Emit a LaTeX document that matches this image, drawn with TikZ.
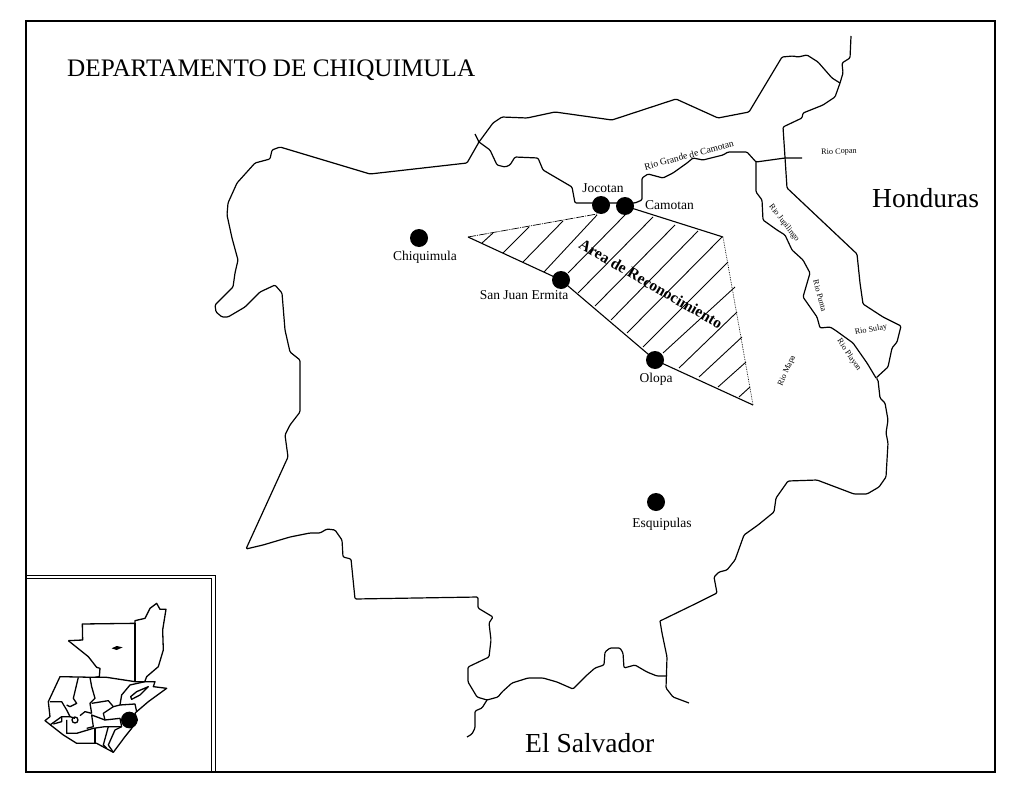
\documentclass[tikz,border=0pt]{standalone}
\usepackage{fontspec}
\setmainfont{Liberation Serif}
\usetikzlibrary{positioning}
\tikzset{
    linea/.style={line width=1.2pt,line join=round,rounded corners=1.2pt},
    marco/.style={line width=2pt},
    trama/.style={line width=0.9pt},
    pueblo/.style={circle,fill=black,inner sep=0pt,minimum size=18pt},
    nombre/.style={inner sep=0pt,font=\fontsize{13.5}{13.5}\selectfont},
    rio/.style={inner sep=0pt,font=\fontsize{8.2}{8.2}\selectfont},
    pais/.style={inner sep=0pt,font=\fontsize{27.5}{27.5}\selectfont},
    mapita/.style={line width=1.3pt,line join=round},
}
\begin{document}
\begin{tikzpicture}[x=1pt,y=-1pt]
    \useasboundingbox (0,0) rectangle (1024,797);
    %% Frame
    \draw[marco] (26,21) rectangle (995,772);
    \draw[line width=1pt] (27,575) -- (215,575) -- (215,772);
    \draw[line width=1pt] (27,578) -- (211,578) -- (211,772);
    %% Title and countries
    \node[inner sep=0pt,anchor=base west,font=\fontsize{25.2}{25.2}\selectfont] (titulo) at (67,77) {DEPARTAMENTO DE CHIQUIMULA};
    \node[pais,anchor=base west] (honduras) at (872,207) {Honduras};
    \node[pais,anchor=base west] (salvador) at (525,752) {El Salvador};
    %% Boundary, west and south
    \draw[linea] (475,134) -- (479,142) -- (467,163) -- (370,174) -- (280,147) -- (272,150) -- (270,159) -- (255,163)
        -- (237,183) -- (228,203) -- (227,215) -- (232,238) -- (238,260) -- (235,273) -- (233,287) -- (215,305)
        -- (216,312) -- (222,317) -- (228,317) -- (245,307) -- (260,292) -- (275,285) -- (282,293) -- (285,330)
        -- (290,352) -- (300,360) -- (300,412) -- (290,425) -- (285,435) -- (288,457) -- (246,549) -- (263,545)
        -- (290,537) -- (310,533) -- (320,533) -- (327,529) -- (335,530) -- (342,540) -- (343,557) -- (351,559)
        -- (355,599) -- (478,597) -- (478,608) -- (493,617) -- (489,623) -- (491,640) -- (489,657) -- (468,667)
        -- (468,682) -- (477,697) -- (487,700) -- (498,697) -- (502,692) -- (512,683) -- (528,678) -- (543,678)
        -- (557,682) -- (573,689) -- (587,675) -- (595,668) -- (604,665) -- (605,652) -- (610,648) -- (620,648)
        -- (623,653) -- (624,668) -- (635,665) -- (647,672) -- (657,676) -- (667,676);
    \draw[linea] (487,700) -- (482,708) -- (475,711) -- (475,728) -- (472,734) -- (467,737);
    %% Boundary, east
    \draw[linea] (660,621) -- (662,633) -- (667,657) -- (666,688) -- (673,697) -- (689,703);
    \draw[linea] (660,621) -- (697,603) -- (717,593) -- (714,577) -- (719,572) -- (727,570) -- (735,560) -- (744,535)
        -- (758,525) -- (774,512) -- (776,498) -- (788,481) -- (817,480) -- (854,494) -- (867,494) -- (879,487)
        -- (886,477) -- (888,443) -- (886,433) -- (888,420) -- (885,403) -- (880,398) -- (878,380) -- (876,378)
        -- (888,367) -- (892,348) -- (897,342) -- (901,326) -- (883,317) -- (863,304) -- (860,283) -- (857,254)
        -- (787,188) -- (783,127) -- (802,118) -- (803,113) -- (823,105) -- (835,97) -- (840,83) -- (843,73)
        -- (842,63) -- (850,58) -- (851,36);
    %% Boundary, north
    \draw[linea] (479,142) -- (493,123) -- (502,117) -- (527,118) -- (555,112) -- (612,120) -- (676,99) -- (718,118)
        -- (749,112) -- (782,57) -- (793,56) -- (798,57) -- (807,55) -- (818,62) -- (832,78) -- (840,83);
    %% Rivers
    \draw[linea] (479,142) -- (490,150) -- (497,165) -- (505,167) -- (510,165) -- (515,157) -- (538,158) -- (543,170)
        -- (572,187) -- (575,203) -- (592,203) -- (635,203) -- (642,200) -- (642,178) -- (648,174) -- (663,178)
        -- (673,173) -- (687,163) -- (693,158) -- (703,160) -- (723,155) -- (728,152) -- (747,152) -- (756,162)
        -- (785,158) -- (802,158);
    \draw[linea] (756,162) -- (756,192) -- (762,200) -- (763,220) -- (777,230) -- (785,235) -- (792,250) -- (803,260)
        -- (810,273) -- (803,297) -- (817,317) -- (820,328) -- (830,327) -- (835,330) -- (853,343) -- (867,363)
        -- (876,378);
    %% Hatched area
    \draw[line width=1.1pt] (468,237) -- (561,280) -- (655,360) -- (753,405);
    \draw[line width=1.1pt] (625,206) -- (723,237);
    \draw[line width=0.7pt,densely dotted] (723,237) -- (753,405);
    \draw[line width=0.7pt,dash pattern=on 8pt off 1pt on 1pt off 1pt] (468,237) -- (597,214);
    \foreach \xa/\ya/\xb/\yb in {482/243/493/233,503/253/529/227,523/262/563/221,544/272/597/215,568/273/625/215,
        578/293/653/217,595/306/675/225,611/320/698/231,627/333/722/237,643/347/728/262,663/353/735/287,
        679/368/737/312,699/377/742/337,718/387/746/362,739/397/750/387}
        \draw[trama] (\xa,\ya) -- (\xb,\yb);
    \node[inner sep=0pt,rotate=-30,font=\bfseries\fontsize{15.6}{15.6}\selectfont] (area) at (651,284) {Area de Reconocimiento};
    %% Towns
    \node[pueblo] (chiquimula) at (419,238) {};
    \node[pueblo] (jocotan) at (601,205) {};
    \node[pueblo] (camotan) at (625,206) {};
    \node[pueblo] (sanjuan) at (561,280) {};
    \node[pueblo] (olopa) at (655,360) {};
    \node[pueblo] (esquipulas) at (656,502) {};
    \node[nombre] at (425,257) {Chiquimula};
    \node[nombre] at (603,188) {Jocotan};
    \node[nombre,anchor=west] at (645,205) {Camotan};
    \node[nombre] at (524,295) {San Juan Ermita};
    \node[nombre] at (656,379) {Olopa};
    \node[nombre] at (662,524) {Esquipulas};
    %% River names
    \node[rio,font=\fontsize{9.5}{9.5}\selectfont,rotate=15] at (689,155) {Rio Grande de Camotan};
    \node[rio,rotate=3] at (839,152) {Rio Copan};
    \node[rio,rotate=-52] at (784,223) {Rio Jupilingo};
    \node[rio,rotate=-75] at (820,296) {Rio Punta};
    \node[rio,rotate=10] at (871,330) {Rio Sulay};
    \node[rio,rotate=-56] at (849,355) {Rio Playon};
    \node[rio,rotate=66] at (787,371) {Rio Mapa};
    %% Small map of the country
    \begin{scope}[shift={(20,570)},x=0.3333pt,y=-0.3333pt]
        \draw[mapita] (145,212) -- (188,210) -- (187,162) -- (345,160) -- (345,152) -- (375,145) -- (390,115) -- (410,100)
            -- (420,118) -- (438,118) -- (428,180) -- (430,240) -- (415,290) -- (380,320) -- (375,333);
        \draw[mapita] (345,160) -- (345,333);
        \draw[mapita] (145,212) -- (205,260) -- (230,292) -- (240,295) -- (238,320) -- (225,322);
        \draw[mapita] (120,320) -- (225,322) -- (260,322) -- (345,335) -- (375,335) -- (405,335) -- (400,350) -- (440,355)
            -- (385,395) -- (350,425) -- (345,430) -- (352,450) -- (335,475) -- (315,500) -- (280,547) -- (230,520)
            -- (170,520) -- (130,495) -- (75,452) -- (90,440) -- (85,395) -- cycle;
        \draw[mapita] (175,322) -- (160,385) -- (170,400) -- (150,410) -- (140,405);
        \draw[mapita] (210,322) -- (215,350) -- (225,385) -- (210,400) -- (215,430);
        \draw[mapita] (90,395) -- (125,395) -- (140,420) -- (150,440) -- (165,445);
        \draw[mapita] (300,405) -- (305,375) -- (330,345) -- (375,335);
        \draw[mapita] (215,400) -- (265,392) -- (280,410) -- (300,405) -- (345,402) -- (350,425);
        \draw[mapita] (280,410) -- (250,430) -- (255,450) -- (300,445) -- (305,470);
        \draw[mapita] (255,450) -- (215,435) -- (220,470) -- (200,475);
        \draw[mapita] (180,437) -- (195,425) -- (215,430);
        \draw[mapita] (90,465) -- (125,440) -- (150,440);
        \draw[mapita] (125,440) -- (125,455) -- (100,462);
        \draw[mapita] (140,450) -- (140,490) -- (170,490) -- (220,475) -- (255,470) -- (305,470);
        \draw[mapita] (225,475) -- (225,520);
        \draw[mapita] (265,470) -- (250,525) -- (260,535);
        \draw[mapita] (305,470) -- (285,480) -- (265,525) -- (280,547);
        \draw[mapita] (332,380) -- (350,365) -- (385,350) -- (360,375) -- (335,388) -- cycle;
        \fill (275,235) -- (290,228) -- (308,232) -- (290,240) -- cycle;
        \draw[mapita] (165,450) circle (9);
        \fill (328,450) circle (25);
    \end{scope}
\end{tikzpicture}
\end{document}
